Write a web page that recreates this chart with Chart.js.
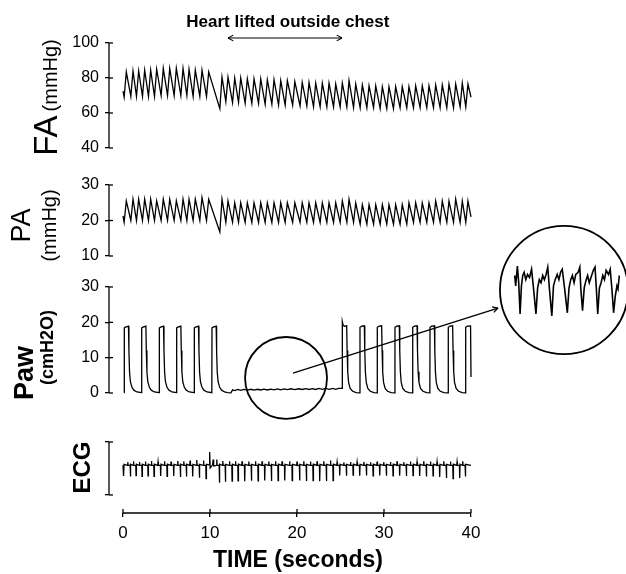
<!DOCTYPE html>
<html>
<head>
<meta charset="utf-8">
<script src="https://cdn.jsdelivr.net/npm/chart.js@4.4.1/dist/chart.umd.min.js"></script>
<style>
  html, body { margin: 0; padding: 0; background: #fff; }
  #wrap { position: relative; width: 626px; height: 574px; overflow: hidden; }
  #main { position: absolute; left: 0; top: 0; }
  #zoomBox { position: absolute; width: 106px; height: 56px; }
</style>
</head>
<body>
<div id="wrap">
  <canvas id="main" width="626" height="574"></canvas>
  <div id="zoomBox"><canvas id="inset" width="106" height="56"></canvas></div>
</div>
<script>
// ---------------- data ----------------
// time (s) of each pressure peak (one per heart beat)
var beatTime = [0.38, 1.15, 1.80, 2.49, 3.18, 3.87, 4.63, 5.37, 6.13, 6.90, 7.59, 8.31, 9.08, 9.85,
  11.38, 12.07, 12.84, 13.53, 14.29, 15.06, 15.83, 16.59, 17.36, 18.13, 18.89,
  19.75, 20.60, 21.38, 22.15, 22.91, 23.68, 24.45,
  25.21, 25.98, 26.75, 27.51, 28.28, 29.05, 29.81, 30.57, 31.34, 32.10, 32.87, 33.64, 34.40, 35.17, 35.94, 36.70, 37.47, 38.24, 39.00, 39.65];

// FA (mmHg): systolic peak and the trough just before it
var faPeak = [83.5, 84, 84, 84.5, 84.5, 85, 85.5, 85.5, 85.5, 85.5, 85, 84.5, 84.5, 83.5,
  80.5, 80.5, 80, 80, 79.5, 79.5, 79.5, 79, 79, 78.5, 78.5,
  78, 77.5, 77.5, 77, 77, 77, 76.5,
  77, 78.5, 76.5, 76, 75.5, 75.5, 75, 75, 75, 75, 75, 75.5, 75.5, 75.5, 76, 76, 76.5, 76.5, 77, 76.5];
var faTrough = [69, 69.5, 69.5, 69.5, 69.5, 69.5, 70, 70, 70, 70, 70, 69.5, 69.5, 69.5,
  62.5, 66.5, 66, 66, 65.5, 65.5, 65.5, 65, 65, 64.5, 64.5,
  64.5, 64, 64, 63.5, 63.5, 63.5, 63.5,
  63.5, 63.5, 63, 63, 63, 63, 62.5, 62.5, 62.5, 63, 63, 63, 63, 63, 63, 63, 63, 63, 63.5, 63.5];
var faEnds = [72.5, 69];   // value at 0 s and at 40 s

// PA (mmHg)
var paPeak = [25.5, 26, 26, 26, 26, 25.5, 26, 26, 25.5, 26, 26, 26, 26.5, 26,
  26, 25.5, 25, 25, 25, 25, 25, 25, 25, 25, 25,
  25, 25, 25, 25, 25, 25, 25,
  25.5, 26, 25, 24.5, 24.5, 24.5, 24.5, 24.5, 24.5, 24.5, 25, 25, 25, 25, 25.5, 25.5, 25.5, 26, 25.5, 25.5];
var paTrough = [19.5, 20, 20, 20, 20, 20, 20, 20, 20, 20, 20, 20, 20, 20,
  16.8, 19.5, 19.5, 19.5, 19.5, 19.5, 19.5, 19.5, 19.5, 19.5, 19.5,
  19.5, 19.5, 19.5, 19.5, 19.5, 19.5, 19.5,
  19.5, 19.5, 19.5, 19, 19, 19, 19, 19, 19, 19, 19, 19.5, 19.5, 19.5, 19.5, 19.5, 19.5, 19.5, 19.5, 19.5];
var paEnds = [21.3, 21];

// ECG (arbitrary units): spike depth and small wave height per beat
var ecgBaseline = 0.12;
var ecgSpike = [-0.28, -0.30, -0.27, -0.30, -0.28, -0.30, -0.28, -0.30, -0.28, -0.32, -0.30, -0.30, -0.35, -0.38,
  -0.54, -0.50, -0.48, -0.47, -0.48, -0.46, -0.47, -0.45, -0.47, -0.46, -0.45,
  -0.46, -0.45, -0.47, -0.46, -0.48, -0.47, -0.46,
  -0.26, -0.27, -0.25, -0.27, -0.26, -0.28, -0.26, -0.27, -0.28, -0.27, -0.28, -0.27, -0.28, -0.30, -0.28, -0.32, -0.36, -0.38, -0.36, -0.30];
var ecgBump = [0.26, 0.24, 0.27, 0.25, 0.26, 0.28, 0.25, 0.27, 0.26, 0.28, 0.27, 0.30, 0.32, 0.30,
  0.34, 0.28, 0.27, 0.27, 0.27, 0.26, 0.27, 0.27, 0.26, 0.27, 0.27,
  0.27, 0.26, 0.27, 0.26, 0.27, 0.27, 0.30,
  0.24, 0.23, 0.25, 0.24, 0.25, 0.24, 0.26, 0.24, 0.25, 0.27, 0.24, 0.26, 0.25, 0.27, 0.26, 0.25, 0.27, 0.26, 0.25, 0.27];
var ecgExtraTime = [9.90, 9.96, 10.02, 10.30, 10.36, 10.42];
var ecgExtraValue = [0.14, 0.62, 0.02, 0.14, 0.34, 0.10];

// Paw (cmH2O): ventilator trace, one row per breath
var pawTime = [
  0.13, 0.15, 0.35, 0.63, 0.68, 0.75, 0.85, 1.03, 1.25, 1.60,
  2.13, 2.15, 2.35, 2.63, 2.68, 2.75, 2.85, 3.03, 3.25, 3.60,
  4.16, 4.18, 4.38, 4.66, 4.71, 4.78, 4.88, 5.06, 5.28, 5.63,
  6.15, 6.17, 6.37, 6.65, 6.70, 6.77, 6.87, 7.05, 7.27, 7.62,
  8.18, 8.20, 8.40, 8.68, 8.73, 8.80, 8.90, 9.08, 9.30, 9.65,
  10.21, 10.23, 10.43, 10.71, 10.76, 10.83, 10.93, 11.11, 11.33, 11.68,
  12.00, 12.40, 12.60,
  12.84, 13.20, 13.53, 13.90, 14.29, 14.70, 15.06, 15.45, 15.83, 16.20, 16.59, 17.00, 17.36, 17.75, 18.13, 18.50,
  18.89, 19.30, 19.75, 20.20, 20.60, 21.00, 21.38, 21.75, 22.15, 22.50, 22.91, 23.30, 23.68, 24.10, 24.45, 24.80,
  25.19, 25.21, 25.30, 25.45, 25.71, 25.76, 25.83, 25.93, 26.11, 26.40, 26.80,
  27.22, 27.24, 27.44, 27.74, 27.79, 27.86, 27.96, 28.14, 28.42, 28.84,
  29.21, 29.23, 29.43, 29.73, 29.78, 29.85, 29.95, 30.13, 30.41, 30.83,
  31.24, 31.26, 31.46, 31.76, 31.81, 31.88, 31.98, 32.16, 32.44, 32.86,
  33.28, 33.30, 33.50, 33.80, 33.85, 33.92, 34.02, 34.20, 34.48, 34.90,
  35.27, 35.29, 35.49, 35.79, 35.84, 35.91, 36.01, 36.19, 36.47, 36.89,
  37.37, 37.39, 37.59, 37.89, 37.94, 38.01, 38.11, 38.29, 38.57, 38.99,
  39.37, 39.39, 39.59, 39.95, 40.00];
var pawValue = [
  0.1, 18.4, 18.7, 18.9, 12, 6, 3.2, 1.6, 0.8, 0.3,
  0.1, 18.4, 18.7, 18.9, 12, 6, 3.2, 1.6, 0.8, 0.3,
  0.1, 18.4, 18.7, 18.9, 12, 6, 3.2, 1.6, 0.8, 0.3,
  0.1, 18.4, 18.7, 18.9, 12, 6, 3.2, 1.6, 0.8, 0.3,
  0.1, 18.4, 18.7, 18.9, 12, 6, 3.2, 1.6, 0.8, 0.3,
  0.1, 18.4, 18.7, 18.9, 12, 6, 3.2, 1.6, 0.8, 0.3,
  0.1, 0.05, 0.9,
  0.7, 1.0, 0.75, 1.0, 0.8, 1.05, 0.8, 1.05, 0.85, 1.1, 0.85, 1.1, 0.9, 1.15, 0.9, 1.15,
  0.95, 1.2, 0.95, 1.2, 1.0, 1.25, 1.0, 1.25, 1.0, 1.3, 1.05, 1.3, 1.05, 1.3, 1.05, 1.3,
  1.3, 20.2, 19.2, 18.9, 19.0, 12, 6, 3, 1.3, 0.5, 0.1,
  0.05, 18.6, 18.9, 19.0, 12, 6, 3, 1.3, 0.5, 0.1,
  0.05, 18.6, 18.9, 19.0, 12, 6, 3, 1.3, 0.5, 0.1,
  0.05, 18.6, 18.9, 19.0, 12, 6, 3, 1.3, 0.5, 0.1,
  0.05, 18.6, 18.9, 19.0, 12, 6, 3, 1.3, 0.5, 0.1,
  0.05, 18.6, 18.9, 19.0, 12, 6, 3, 1.3, 0.5, 0.1,
  0.05, 18.6, 18.9, 19.0, 12, 6, 3, 1.3, 0.5, 0.1,
  0.05, 18.6, 18.9, 19.0, 4.5];

// magnified Paw oscillation shown in the bubble (ms, cmH2O)
var insetTime = [32, 80, 160, 224, 288, 352, 416, 480, 560, 640, 736, 832, 928, 1040, 1120, 1200, 1280, 1360, 1440, 1520,
  1600, 1680, 1792, 1872, 1952, 2048, 2128, 2208, 2288, 2400, 2528, 2608, 2688, 2768, 2848, 2928, 3040, 3120, 3168, 3248,
  3328, 3408, 3488, 3568, 3648, 3760, 3840, 3904, 3968, 4048, 4128, 4208, 4288, 4368, 4480, 4560, 4640, 4720, 4800, 4880,
  4928, 4992];
var insetValue = [1.44, 1.34, 1.53, 1.37, 1.07, 1.34, 1.44, 1.47, 1.40, 1.45, 1.42, 1.50, 1.31, 1.07, 1.32, 1.40, 1.37, 1.44, 1.40, 1.45,
  1.52, 1.31, 1.05, 1.34, 1.40, 1.45, 1.40, 1.47, 1.50, 1.31, 1.08, 1.32, 1.40, 1.44, 1.37, 1.45, 1.47, 1.52, 1.31, 1.10,
  1.32, 1.39, 1.44, 1.37, 1.42, 1.49, 1.52, 1.31, 1.07, 1.32, 1.37, 1.44, 1.40, 1.49, 1.45, 1.50, 1.31, 1.08, 1.24, 1.34,
  1.31, 1.44];

var timeTicks = [0, 10, 20, 30, 40];
var faTicks = [40, 60, 80, 100];
var paTicks = [10, 20, 30];
var pawTicks = [0, 10, 20, 30];
var ecgTicks = [-1, 1];

var liftedFrom = 12.07, liftedTo = 25.17, liftedLabelAt = 18.95;
var spot = {x: 18.74, y: 4.25, r: 4.71};     // small circle on Paw (s, cmH2O, radius in s)
var bubble = {x: 50.69, y: 29.15, r: 7.36};  // magnified bubble
var pointer = {x1: 19.54, y1: 5.6, x2: 43.1, y2: 24.05};

// ---------------- layout ----------------
var FONT = '"Liberation Sans", Arial, Helvetica, sans-serif';
var AREA_TOP = 43, AREA_BOTTOM = 513, AREA_LEFT = 109, AREA_RIGHT = 487;
var X0_PX = 123, X40_PX = 471;
var xk = (X40_PX - X0_PX) / 40;
var XMIN = -(X0_PX - AREA_LEFT) / xk, XMAX = 40 + (AREA_RIGHT - X40_PX) / xk;
var Y_AXES = ['fa', 'pa', 'paw', 'ecg'];

// value range of an axis so that hiV sits at hiPx and loV at loPx
function band(hiV, hiPx, loV, loPx) {
  var k = (loPx - hiPx) / (hiV - loV);
  return {min: loV - (AREA_BOTTOM - loPx) / k, max: hiV + (hiPx - AREA_TOP) / k};
}

function pressureTrace(ends, peaks, troughs) {
  var pts = [{x: 0, y: ends[0]}];
  for (var i = 0; i < beatTime.length; i++) {
    pts.push({x: beatTime[i] - 0.25, y: troughs[i]});
    pts.push({x: beatTime[i], y: peaks[i]});
  }
  pts.push({x: 40, y: ends[1]});
  return pts;
}

function ecgTrace() {
  var B = ecgBaseline, pts = [{x: 0, y: B}];
  for (var i = 0; i < beatTime.length; i++) {
    var s = beatTime[i] - 0.3;
    [[s - 0.34, B], [s - 0.30, ecgBump[i]], [s - 0.26, B], [s - 0.03, B], [s, ecgSpike[i]], [s + 0.04, B + 0.04]]
      .forEach(function (p) { if (p[0] > 0 && p[0] < 40) pts.push({x: p[0], y: p[1]}); });
  }
  for (var j = 0; j < ecgExtraTime.length; j++) pts.push({x: ecgExtraTime[j], y: ecgExtraValue[j]});
  pts.sort(function (a, b) { return a.x - b.x; });
  pts.push({x: 40, y: B});
  return pts;
}

function pairs(xs, ys) {
  return xs.map(function (x, i) { return {x: x, y: ys[i]}; });
}

function trace(points, axis) {
  return {data: points, yAxisID: axis, xAxisID: 'x', borderColor: '#000', borderWidth: 1.3,
          pointRadius: 0, fill: false, tension: 0};
}

function yScale(ticksArr, range, labels) {
  var sc = {
    type: 'linear', position: 'left', min: range.min, max: range.max,
    afterFit: function (s) { s.width = 0; },   // all y axes share the same left edge
    afterBuildTicks: function (s) { s.ticks = ticksArr.map(function (v) { return {value: v}; }); },
    border: {display: false},
    grid: {drawOnChartArea: false, tickLength: 4, color: '#000', tickColor: '#000', lineWidth: 1.3},
    ticks: {padding: 6, color: '#000', autoSkip: false, font: {size: 16, family: FONT}}
  };
  if (!labels) sc.ticks.callback = function () { return ''; };
  return sc;
}

// --------- y titles, axis lines, annotations ---------
function vtext(ctx, parts, x, yc) {
  var total = 0;
  parts.forEach(function (p) { ctx.font = p.font; p.w = ctx.measureText(p.t).width; total += p.w + (p.gap || 0); });
  ctx.save();
  ctx.translate(x, yc);
  ctx.rotate(-Math.PI / 2);
  ctx.textAlign = 'left';
  ctx.textBaseline = 'alphabetic';
  var cur = -total / 2;
  parts.forEach(function (p) { ctx.font = p.font; ctx.fillText(p.t, cur, 0); cur += p.w + (p.gap || 0); });
  ctx.restore();
}

var decor = {
  id: 'decor',
  afterLayout: function (chart) {
    // zero-width y axes would clip their own labels: open the box to the left edge
    Y_AXES.forEach(function (id) {
      var s = chart.scales[id];
      s.left = 0;
      s.width = s.right;
    });
  },
  afterDraw: function (chart) {
    var ctx = chart.ctx, area = chart.chartArea, sx = chart.scales.x, sp = chart.scales.paw;
    ctx.save();
    ctx.strokeStyle = '#000';
    ctx.fillStyle = '#000';
    ctx.lineWidth = 1.3;
    function seg(x1, y1, x2, y2) { ctx.beginPath(); ctx.moveTo(x1, y1); ctx.lineTo(x2, y2); ctx.stroke(); }
    function head(x, y, a) {
      var L = 6, w = 0.5;
      seg(x, y, x - L * Math.cos(a - w), y - L * Math.sin(a - w));
      seg(x, y, x - L * Math.cos(a + w), y - L * Math.sin(a + w));
    }
    // y axis lines, ticks crossing inward
    Y_AXES.forEach(function (id) {
      var s = chart.scales[id];
      var v = s.ticks.map(function (t) { return t.value; });
      var x0 = area.left;
      seg(x0, s.getPixelForValue(Math.max.apply(null, v)), x0, s.getPixelForValue(Math.min.apply(null, v)));
      v.forEach(function (val) { var py = s.getPixelForValue(val); seg(x0, py, x0 + 4, py); });
    });
    // time axis line 0..40
    var yb = area.bottom;
    seg(sx.getPixelForValue(timeTicks[0]), yb, sx.getPixelForValue(timeTicks[timeTicks.length - 1]), yb);
    timeTicks.forEach(function (t) { var px = sx.getPixelForValue(t); seg(px, yb - 4, px, yb); });

    // axis titles
    vtext(ctx, [{t: 'FA', font: '33px ' + FONT, gap: 4}, {t: '(mmHg)', font: '20px ' + FONT}], 57, 97.5);
    vtext(ctx, [{t: 'PA', font: '27px ' + FONT}], 30, 225.5);
    vtext(ctx, [{t: '(mmHg)', font: '20px ' + FONT}], 56, 225.5);
    vtext(ctx, [{t: 'Paw', font: 'bold 27px ' + FONT}], 33, 373);
    vtext(ctx, [{t: '(cmH2O)', font: 'bold 18px ' + FONT}], 53, 347.5);
    vtext(ctx, [{t: 'ECG', font: 'bold 24px ' + FONT}], 90, 467.5);

    // heart lifted span
    var xa = sx.getPixelForValue(liftedFrom), xb = sx.getPixelForValue(liftedTo), ya = area.top - 5;
    ctx.lineWidth = 1.1;
    seg(xa, ya, xb, ya);
    head(xa, ya, Math.PI);
    head(xb, ya, 0);
    ctx.font = 'bold 17px ' + FONT;
    ctx.textAlign = 'center';
    ctx.textBaseline = 'alphabetic';
    ctx.fillText('Heart lifted outside chest', sx.getPixelForValue(liftedLabelAt), area.top - 16);

    // circle on Paw, pointer, bubble
    var ppx = function (s) { return s * xk; };
    ctx.lineWidth = 1.8;
    ctx.beginPath();
    ctx.arc(sx.getPixelForValue(spot.x), sp.getPixelForValue(spot.y), ppx(spot.r), 0, Math.PI * 2);
    ctx.stroke();
    ctx.beginPath();
    ctx.arc(sx.getPixelForValue(bubble.x), sp.getPixelForValue(bubble.y), ppx(bubble.r), 0, Math.PI * 2);
    ctx.stroke();
    var p1x = sx.getPixelForValue(pointer.x1), p1y = sp.getPixelForValue(pointer.y1);
    var p2x = sx.getPixelForValue(pointer.x2), p2y = sp.getPixelForValue(pointer.y2);
    ctx.lineWidth = 1.3;
    seg(p1x, p1y, p2x, p2y);
    head(p2x, p2y, Math.atan2(p2y - p1y, p2x - p1x));
    ctx.restore();
  }
};

// ---------------- charts ----------------
var mainChart = new Chart(document.getElementById('main'), {
  type: 'line',
  data: {
    datasets: [
      trace(pressureTrace(faEnds, faPeak, faTrough), 'fa'),
      trace(pressureTrace(paEnds, paPeak, paTrough), 'pa'),
      trace(pairs(pawTime, pawValue), 'paw'),
      trace(ecgTrace(), 'ecg')
    ]
  },
  options: {
    responsive: false,
    animation: false,
    devicePixelRatio: 1,
    layout: {padding: {left: AREA_LEFT, top: AREA_TOP, right: 626 - AREA_RIGHT, bottom: 0}},
    plugins: {legend: {display: false}, tooltip: {enabled: false}},
    scales: {
      x: {
        type: 'linear', position: 'bottom', min: XMIN, max: XMAX,
        afterFit: function (s) { s.height = 574 - AREA_BOTTOM; },
        afterBuildTicks: function (s) { s.ticks = timeTicks.map(function (v) { return {value: v}; }); },
        border: {display: false},
        grid: {drawOnChartArea: false, tickLength: 4, color: '#000', tickColor: '#000', lineWidth: 1.3},
        ticks: {padding: 6, color: '#000', autoSkip: false, maxRotation: 0, font: {size: 17, family: FONT}},
        title: {display: true, text: 'TIME (seconds)', color: '#000', padding: {top: 0, bottom: 0},
                font: {size: 23, weight: 'bold', family: FONT}}
      },
      fa: yScale(faTicks, band(100, 43, 40, 148), true),
      pa: yScale(paTicks, band(30, 185, 10, 256), true),
      paw: yScale(pawTicks, band(30, 287, 0, 393), true),
      ecg: yScale(ecgTicks, band(1, 442, -1, 495), false)
    }
  },
  plugins: [decor]
});

// put the magnified trace inside the bubble
var bx = mainChart.scales.x.getPixelForValue(bubble.x);
var by = mainChart.scales.paw.getPixelForValue(bubble.y);
var box = document.getElementById('zoomBox');
box.style.left = Math.round(bx + 3 - 53) + 'px';
box.style.top = Math.round(by - 28) + 'px';

new Chart(document.getElementById('inset'), {
  type: 'line',
  data: {datasets: [{data: pairs(insetTime, insetValue), borderColor: '#000', borderWidth: 1.6,
                     pointRadius: 0, fill: false, tension: 0}]},
  options: {
    responsive: false,
    animation: false,
    devicePixelRatio: 1,
    layout: {padding: 0},
    plugins: {legend: {display: false}, tooltip: {enabled: false}},
    scales: {
      x: {type: 'linear', display: false, min: 0, max: 5024},
      y: {type: 'linear', display: false, min: 1.03, max: 1.57}
    }
  }
});
</script>
</body>
</html>
